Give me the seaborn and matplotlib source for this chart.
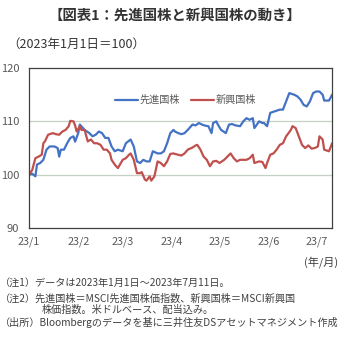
import numpy as np
import pandas as pd
import matplotlib
matplotlib.use("Agg")
import matplotlib.pyplot as plt
import seaborn as sns

# Day offsets from 2023-01-01 and index levels (2023-01-01 = 100)
dev_days = [0, 2, 4, 5, 7, 9, 11, 13, 16, 18, 19, 20, 22, 24, 26, 28, 29, 31, 32, 34,
            35, 38, 40, 42, 44, 46, 48, 50, 52, 54, 56, 59, 61, 64, 66, 68, 70, 72, 74,
            76, 78, 81, 83, 85, 87, 89, 91, 92, 94, 96, 98, 100, 103, 105, 107, 109, 111,
            113, 115, 116, 118, 119, 121, 124, 126, 128, 130, 133, 135, 137, 139, 141,
            142, 145, 147, 148, 150, 152, 155, 158, 160, 162, 164, 167, 169, 171, 173,
            175, 177, 179, 181, 183, 185, 186, 189, 191]
dev_vals = [100, 100.2, 99.7, 101.9, 102.2, 102.8, 104.7, 105.3, 105.3, 105, 103.4, 104.7,
            104.7, 105.9, 106.9, 107.2, 106.2, 107.8, 109.4, 108.75, 108.4, 107.8, 107.2,
            107.5, 108.1, 107.8, 106.9, 106.9, 105.3, 104.4, 104.7, 104.4, 105.9, 106.6,
            105.3, 102.5, 102.2, 102.8, 102.5, 102.5, 104.4, 104, 104, 104.4, 105.9, 107.8,
            108.4, 108.1, 107.8, 107.6, 107.8, 108.4, 109.4, 109.25, 109.7, 109.4, 109.2,
            109.1, 107.8, 109.7, 110, 109.4, 108.4, 107.8, 109.4, 109.5, 109.25, 109.1, 110,
            110.6, 110.3, 110.6, 108.75, 110, 109.7, 109.7, 109.1, 111.6, 111.9, 112.2,
            112.2, 113.75, 115.3, 115, 114.7, 114.1, 113.1, 112.8, 113.75, 115.3, 115.6,
            115.6, 115, 113.9, 113.9, 115]

em_days = [0, 2, 4, 6, 8, 9, 10, 12, 15, 17, 19, 21, 23, 25, 26, 28, 29, 30, 32, 33, 35,
           37, 39, 41, 43, 45, 47, 49, 51, 52, 54, 56, 59, 61, 63, 64, 66, 68, 70, 71, 73,
           74, 76, 77, 79, 81, 83, 85, 87, 89, 91, 92, 94, 96, 98, 100, 103, 105, 106, 108,
           110, 112, 114, 116, 118, 120, 123, 125, 127, 129, 131, 133, 135, 137, 139, 141,
           142, 145, 147, 149, 150, 152, 154, 156, 158, 160, 162, 165, 166, 168, 170, 172,
           174, 176, 178, 180, 182, 183, 185, 186, 189, 191]
em_vals = [100, 100.9, 103.1, 103.4, 103.75, 105.9, 106.25, 107.5, 107.8, 107.6, 107.5,
           108.1, 108.4, 109.1, 110.1, 110, 109.25, 108.1, 109.1, 108.4, 108.4, 106.25,
           106.6, 105.9, 105.9, 105.6, 104.7, 104.7, 104, 102.8, 101.9, 101.25, 102.8,
           103.1, 103.75, 104, 102.8, 100.3, 100.3, 100.5, 99.1, 98.9, 99.7, 98.9, 99.7,
           102.5, 102.2, 101.6, 102.5, 103.9, 104, 103.9, 103.75, 103.6, 104, 104.7, 105.1,
           105.5, 105.6, 104.7, 103.4, 102.8, 101.6, 102.5, 102.6, 102.2, 102.8, 103.4, 104,
           103.1, 102.5, 102.8, 102.8, 102.8, 103.1, 103.75, 102.2, 102.5, 102.4, 101.25,
           102.2, 103.75, 104, 104.7, 105.6, 105.9, 107.2, 108.4, 109.1, 108.75, 107.2,
           105.6, 105, 105.5, 104.9, 105, 105.3, 107.2, 106.6, 104.7, 104.4, 105.9]

series_names = ["先進国株", "新興国株"]
series_colors = ["#4472C4", "#C0504D"]
tick_labels = ["23/1", "23/2", "23/3", "23/4", "23/5", "23/6", "23/7"]

base = pd.Timestamp("2023-01-01")
df = pd.concat([
    pd.DataFrame({"date": base + pd.to_timedelta(dev_days, unit="D"),
                  "value": dev_vals, "series": series_names[0]}),
    pd.DataFrame({"date": base + pd.to_timedelta(em_days, unit="D"),
                  "value": em_vals, "series": series_names[1]}),
], ignore_index=True)

sns.set_theme(style="white")
plt.rcParams["font.family"] = ["Noto Sans CJK JP", "DejaVu Sans"]

fig = plt.figure(figsize=(3.5, 3.4), dpi=100)
ax = fig.add_axes([0.083, 0.329, 0.866, 0.471])

sns.lineplot(data=df, x="date", y="value", hue="series",
             palette=dict(zip(series_names, series_colors)),
             linewidth=1.6, ax=ax, legend=True)

ax.set_ylim(90, 120)
ax.set_yticks([90, 100, 110, 120])
ax.set_xlim(base, pd.Timestamp("2023-07-11"))
month_ticks = pd.date_range("2023-01-01", periods=7, freq="MS")
ax.set_xticks(month_ticks)
ax.set_xticklabels(tick_labels)
ax.set_xlabel("")
ax.set_ylabel("")

for y in (100, 110):
    ax.axhline(y, color="#c6d0c6", linewidth=0.9, zorder=0)

for s in ax.spines.values():
    s.set_color("#404040")
    s.set_linewidth(0.9)

ax.tick_params(axis="x", direction="in", length=4, width=0.8, color="#404040",
               labelsize=7.8, labelcolor="#595959", pad=6)
ax.tick_params(axis="y", length=0, labelsize=8, labelcolor="#595959", pad=7)

leg = ax.legend(loc="center left", bbox_to_anchor=(0.268, 0.8), ncol=2,
                frameon=False, fontsize=7.3, borderpad=0, handlelength=2.2,
                handletextpad=0.2, columnspacing=1.1)
for t in leg.get_texts():
    t.set_color("#595959")

fig.text(0.5, 0.955, "【図表1：先進国株と新興国株の動き】", ha="center", va="center",
         fontsize=10.4, fontweight="bold", color="#333333")
fig.text(0.022, 0.87, "（2023年1月1日＝100）", ha="left", va="center",
         fontsize=9, color="#333333")
fig.text(0.967, 0.23, "(年/月)", ha="right", va="center", fontsize=8, color="#404040")

notes = [
    (0.0, 0.167, "（注1）データは2023年1月1日～2023年7月11日。"),
    (0.0, 0.123, "（注2）先進国株＝MSCI先進国株価指数、新興国株＝MSCI新興国"),
    (0.118, 0.088, "株価指数。米ドルベース、配当込み。"),
    (0.0, 0.050, "（出所）Bloombergのデータを基に三井住友DSアセットマネジメント作成"),
]
for x, y, s in notes:
    fig.text(x, y, s, ha="left", va="center", fontsize=7.3, color="#404040")

fig.savefig("out.png", dpi=100)
